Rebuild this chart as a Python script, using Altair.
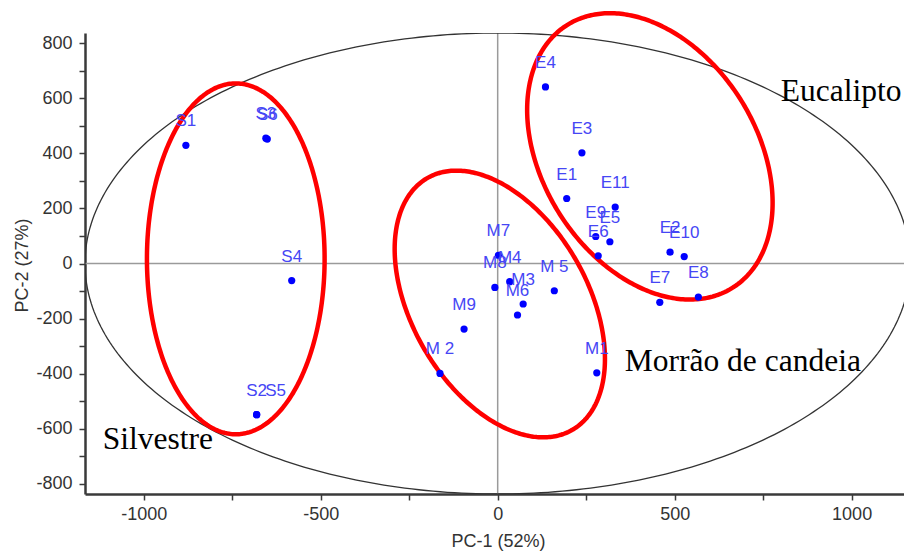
import numpy as np
import pandas as pd
import altair as alt

# PCA scores (PC-1, PC-2) of the honey samples
e_labels = ["E1", "E2", "E3", "E4", "E5", "E6", "E7", "E8", "E9", "E10", "E11"]
e_pc1 = [195, 487, 238, 135, 317, 284, 458, 567, 277, 527, 332]
e_pc2 = [236, 41, 402, 641, 79, 28, -141, -122, 98, 25, 205]

m_labels = ["M1", "M 2", "M3", "M4", "M 5", "M6", "M7", "M8", "M9"]
m_pc1 = [280, -163, 72, 34, 160, 56, 2, -8, -95]
m_pc2 = [-397, -399, -147, -66, -99, -187, 30, -87, -238]

s_labels = ["S1", "S2", "S3", "S4", "S5", "S6"]
s_pc1 = [-881, -681, -655, -582, -681, -651]
s_pc2 = [429, -549, 455, -62, -549, 452]

# Group names written beside the clusters
group_names = ["Eucalipto", "Morrão de candeia", "Silvestre"]
group_x = [800, 359, -1116]
group_y = [622, -358, -642]

points = pd.DataFrame({
    "label": e_labels + m_labels + s_labels,
    "x": e_pc1 + m_pc1 + s_pc1,
    "y": e_pc2 + m_pc2 + s_pc2,
})
groups = pd.DataFrame({"name": group_names, "x": group_x, "y": group_y})


def ellipse_path(name, center, u, v, n=360):
    """Outline of an ellipse given its centre and two conjugate semi-axis vectors."""
    t = np.linspace(0.0, 2.0 * np.pi, n + 1)
    return pd.DataFrame({
        "x": center[0] + np.cos(t) * u[0] + np.sin(t) * v[0],
        "y": center[1] + np.cos(t) * u[1] + np.sin(t) * v[1],
        "k": np.arange(n + 1),
        "name": name,
    })


# Hotelling T2 confidence ellipse
hotelling = ellipse_path("T2", (0, 0), (1166, 0), (0, 837))

# Hand-drawn cluster outlines
clusters = pd.concat([
    ellipse_path("Silvestre", (-740, 17), (251, 0), (0, 637)),
    ellipse_path("Morrão de candeia", (6, -147), (205, -457), (-215, -160)),
    ellipse_path("Eucalipto", (430, 389), (235, -476), (-255, -209)),
])

origin = pd.DataFrame({"x": [0], "y": [0]})

AXIS_COLOR = "#3a3a3a"
TEXT_COLOR = "#333333"
SANS = "Liberation Sans"

x_scale = alt.Scale(domain=[-1166, 1148], nice=False, zero=False)
y_scale = alt.Scale(domain=[-837, 837], nice=False, zero=False)

x_axis = alt.Axis(
    values=list(range(-1000, 1001, 250)),
    labelExpr="datum.value % 500 == 0 ? '' + datum.value : ''",
    grid=False, tickSize=6, tickWidth=1.5, tickColor=AXIS_COLOR,
    domainColor=AXIS_COLOR, domainWidth=2.5,
    labelFont=SANS, labelFontSize=18, labelColor=TEXT_COLOR, labelPadding=5,
    labelFlush=False,
    titleFont=SANS, titleFontSize=18, titleFontWeight="normal", titleColor=TEXT_COLOR,
    titleX=413, titleY=47, titleBaseline="middle", titleAlign="center",
)
y_axis = alt.Axis(
    values=list(range(-800, 801, 100)),
    labelExpr="datum.value % 200 == 0 ? '' + datum.value : ''",
    grid=False, tickSize=6, tickWidth=1.5, tickColor=AXIS_COLOR,
    domainColor=AXIS_COLOR, domainWidth=2.5,
    labelFont=SANS, labelFontSize=18, labelColor=TEXT_COLOR, labelPadding=7,
    labelFlush=False,
    titleFont=SANS, titleFontSize=18, titleFontWeight="normal", titleColor=TEXT_COLOR,
    titleX=-63, titleY=232, titleAngle=270, titleBaseline="middle", titleAlign="center",
)

X = alt.X("x:Q", scale=x_scale, axis=x_axis, title="PC-1 (52%)")
Y = alt.Y("y:Q", scale=y_scale, axis=y_axis, title="PC-2 (27%)")

h_zero = alt.Chart(origin).mark_rule(color="#9a9a9a", strokeWidth=1.5).encode(y=Y)
v_zero = alt.Chart(origin).mark_rule(color="#9a9a9a", strokeWidth=1.5).encode(x=X)

t2 = alt.Chart(hotelling).mark_line(color="#333333", strokeWidth=1.3, clip=True).encode(
    x=X, y=Y, order="k:Q"
)

outlines = alt.Chart(clusters).mark_line(color="#ff0000", strokeWidth=4.5).encode(
    x=X, y=Y, order="k:Q", detail="name:N"
)

dots = alt.Chart(points).mark_circle(color="#0000ff", opacity=1, size=52).encode(x=X, y=Y)

label_style = dict(font=SANS, fontSize=17, color="#4646f5", baseline="middle", align="center")
names = alt.Chart(points).transform_filter("datum.label != 'S5'").mark_text(
    dy=-24, **label_style
).encode(x=X, y=Y, text="label:N")
names_s5 = alt.Chart(points).transform_filter("datum.label == 'S5'").mark_text(
    dy=-24, dx=19, **label_style
).encode(x=X, y=Y, text="label:N")

group_text = alt.Chart(groups).mark_text(
    font="Liberation Serif", fontSize=31.5, color="#000000", align="left", baseline="middle"
).encode(x=X, y=Y, text="name:N")

chart = (
    alt.layer(h_zero, v_zero, t2, outlines, dots, names, names_s5, group_text)
    .properties(
        width=819, height=461,
        autosize=alt.AutoSizeParams(type="none"),
        padding={"left": 85, "top": 33, "right": 0, "bottom": 57},
        background="white",
    )
    .configure_view(strokeWidth=0)
)

chart.save("out.html", embed_options={"renderer": "svg", "actions": False})
